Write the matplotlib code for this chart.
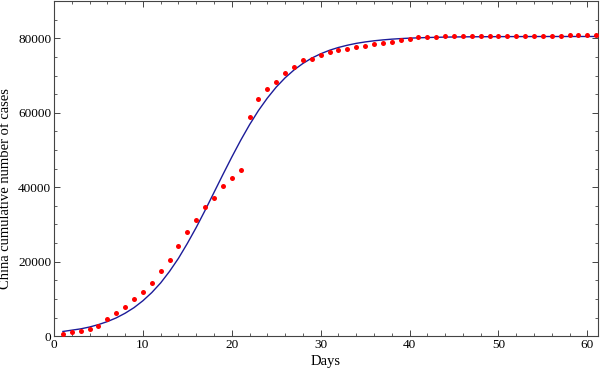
import matplotlib
matplotlib.use("Agg")
import matplotlib.pyplot as plt
from matplotlib.ticker import MultipleLocator

# reported cumulative cases (red dots)
days = list(range(1, 62))
cases = [700, 1000, 1500, 2000, 2850, 4550, 6200, 7800, 9900, 11950,
         14400, 17400, 20400, 24250, 28100, 31100, 34700, 37200, 40200, 42600,
         44600, 58800, 63700, 66500, 68400, 70600, 72300, 74150, 74450, 75600,
         76300, 76950, 77200, 77540, 78000, 78500, 78800, 79100, 79600, 79950,
         80300, 80300, 80300, 80500, 80500, 80750, 80750, 80750, 80750, 80750,
         80750, 80750, 80750, 80750, 80750, 80750, 80750, 81000, 81000, 81000,
         81000]

# fitted curve (blue line)
fit_days = [1, 2, 3, 4, 5, 6, 7, 8, 9, 10, 11, 12, 13, 14, 15, 16, 17, 18, 19, 20,
            21, 22, 23, 24, 25, 26, 27, 28, 29, 30, 31, 32, 33, 34, 35, 36, 37, 38,
            39, 40, 42, 44, 46, 50, 55, 61.2]
fit_cases = [1250, 1600, 1950, 2450, 3100, 3900, 4900, 6150, 7650, 9500,
             11700, 14300, 17400, 20900, 24900, 29200, 33800, 38600, 43400, 48100,
             52600, 56800, 60600, 63950, 66900, 69400, 71500, 73250, 74700, 75850,
             76800, 77550, 78150, 78650, 79030, 79340, 79580, 79780, 79930, 80050,
             80220, 80330, 80400, 80460, 80490, 80500]

plt.rcParams["font.family"] = ["Liberation Serif", "DejaVu Serif"]

fig = plt.figure(figsize=(6, 3.71), dpi=100)
ax = fig.add_axes([0.09, 0.094, 0.9067, 0.903])

ax.plot(fit_days, fit_cases, color="#1c1c99", linewidth=1.0, zorder=2)
ax.plot(days, cases, linestyle="none", marker="o", markersize=3.6,
        markerfacecolor="#ff0000", markeredgecolor="none", zorder=3)

ax.set_xlim(0, 61.2)
ax.set_ylim(0, 90000)
ax.xaxis.set_major_locator(MultipleLocator(10))
ax.xaxis.set_minor_locator(MultipleLocator(2))
ax.yaxis.set_major_locator(MultipleLocator(20000))
ax.yaxis.set_minor_locator(MultipleLocator(5000))

ax.tick_params(which="both", direction="in", top=True, right=True,
               labelsize=9.5, color="#444444", pad=2)
ax.tick_params(which="major", length=4, width=0.7)
ax.tick_params(which="minor", length=2.2, width=0.6)
for s in ax.spines.values():
    s.set_linewidth(0.8)
    s.set_color("#444444")

ax.set_xlabel("Days", fontsize=10.5, labelpad=3)
ax.set_ylabel("China cumulative number of cases", fontsize=10.5)
ax.yaxis.set_label_coords(-0.078, 0.44)

fig.savefig("out.png", dpi=100)
